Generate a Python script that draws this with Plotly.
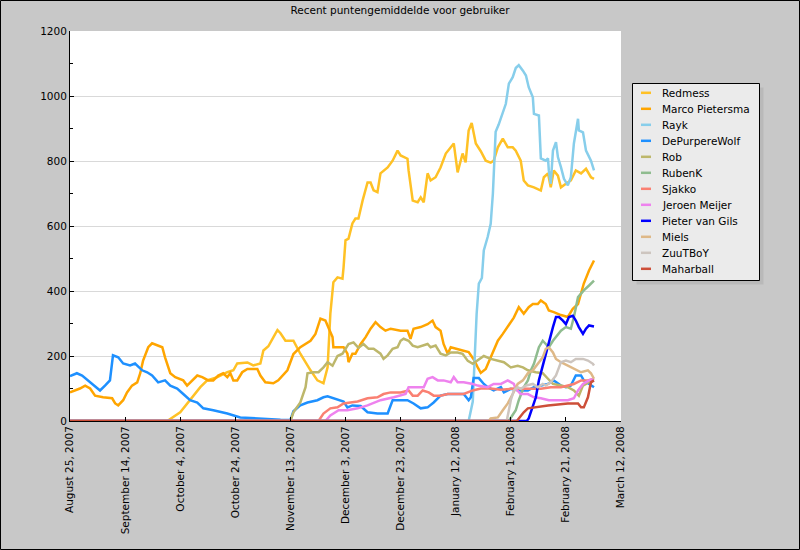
import pandas as pd
import plotly.graph_objects as go

# ---------------- data (days since 2007-08-25, average points) ----------------
start_date = "2007-08-25"

redmess_days = [0, 32.7, 35.3, 40.0, 42.9, 44.4, 47.3, 49.8, 53.5, 57.1, 59.3, 60.7, 64.4, 66.5, 69.1, 70.2, 72.0, 73.8, 75.3, 76.4, 78.2, 81.1, 83.6, 87.3, 89.8, 92.0, 93.5, 94.5, 95.6, 97.1, 98.9, 99.3, 100.0, 101.1, 102.5, 103.6, 104.7, 106.2, 108.0, 109.1, 110.2, 111.6, 112.7, 115.3, 117.1, 118.9, 120.0, 122.5, 122.9, 124.4, 126.2, 127.3, 128.4, 129.8, 130.9, 132.7, 134.5, 136.4, 138.2, 139.3, 140.7, 142.5, 143.6, 144.7, 145.8, 147.3, 149.1, 150.9, 152.7, 153.8, 155.3, 157.1, 158.9, 160.7, 161.8, 163.6, 164.7, 166.2, 168.4, 170.9, 172.0, 173.5, 174.5, 175.6, 177.1, 178.2, 180.0, 181.8, 183.6, 185.5, 187.3, 189.1, 190.2]
redmess_vals = [0, 0, 0, 27, 57, 73, 104, 125, 135, 150, 156, 177, 180, 171, 177, 217, 230, 257, 280, 270, 247, 247, 207, 156, 125, 116, 165, 330, 427, 442, 438, 473, 556, 561, 608, 623, 623, 678, 734, 734, 710, 704, 762, 780, 801, 832, 817, 807, 771, 678, 673, 688, 673, 762, 740, 750, 780, 823, 842, 854, 765, 823, 796, 894, 917, 854, 830, 801, 795, 801, 842, 869, 842, 842, 832, 801, 740, 725, 719, 709, 750, 762, 719, 771, 755, 719, 730, 740, 771, 762, 776, 750, 745]

marco_days = [0, 1.8, 3.6, 5.5, 7.3, 9.1, 12.0, 15.3, 16.4, 17.5, 19.3, 20.7, 22.5, 24.4, 25.5, 26.5, 28.4, 29.8, 31.6, 33.5, 34.5, 36.4, 38.2, 41.1, 42.5, 44.4, 46.2, 48.0, 50.2, 52.0, 53.8, 55.6, 57.1, 58.2, 59.3, 60.7, 62.5, 64.4, 68.0, 69.1, 70.9, 73.8, 75.6, 78.9, 81.1, 83.6, 87.3, 89.1, 90.9, 92.7, 93.8, 95.3, 95.6, 99.3, 100.7, 101.1, 102.5, 103.6, 105.5, 107.3, 109.1, 110.9, 112.7, 114.5, 116.4, 120.0, 122.5, 123.6, 124.7, 127.3, 129.8, 131.6, 132.7, 134.5, 135.6, 137.1, 138.2, 140.0, 142.5, 144.7, 146.5, 148.0, 149.1, 150.9, 152.7, 155.3, 157.1, 158.9, 161.1, 162.9, 164.7, 166.5, 168.0, 169.8, 170.9, 172.7, 173.8, 175.6, 178.2, 180.7, 182.5, 184.4, 186.5, 188.4, 190.2]
marco_vals = [88, 94, 100, 109, 100, 78, 73, 70, 54, 48, 64, 88, 109, 119, 147, 185, 227, 239, 233, 227, 196, 147, 135, 125, 109, 125, 140, 135, 125, 125, 140, 147, 135, 147, 125, 125, 150, 160, 160, 140, 119, 116, 125, 156, 206, 227, 247, 268, 315, 309, 289, 258, 227, 227, 207, 181, 207, 207, 237, 258, 284, 304, 289, 278, 284, 278, 278, 253, 284, 289, 298, 309, 289, 278, 237, 207, 227, 222, 217, 212, 190, 165, 148, 160, 196, 247, 268, 289, 318, 350, 330, 350, 360, 360, 371, 360, 340, 335, 326, 320, 345, 360, 423, 463, 494]

rayk_days = [0, 144.7, 146.2, 146.9, 147.6, 148.4, 149.5, 150.2, 151.6, 152.7, 153.5, 154.2, 154.5, 155.6, 157.1, 158.2, 159.3, 160.7, 161.8, 162.9, 164.4, 165.5, 166.5, 168.0, 168.4, 170.2, 170.9, 172.7, 173.5, 173.8, 174.5, 175.3, 176.4, 177.1, 178.2, 179.3, 180.7, 181.8, 182.9, 184.4, 184.7, 186.2, 187.3, 189.1, 190.2]
rayk_vals = [0, 0, 60, 200, 330, 423, 440, 525, 566, 607, 700, 832, 890, 912, 950, 976, 1038, 1058, 1086, 1095, 1078, 1063, 1027, 996, 945, 940, 808, 801, 808, 771, 730, 832, 858, 812, 781, 745, 725, 750, 854, 930, 894, 888, 832, 801, 771]

wolf_days = [0, 2.5, 4.4, 6.5, 9.1, 10.9, 12.7, 14.5, 15.6, 17.5, 19.3, 21.8, 23.6, 26.2, 28.0, 29.8, 32.0, 34.5, 36.4, 38.9, 41.1, 43.6, 46.2, 48.4, 52.0, 57.1, 61.8, 66.5, 71.6, 76.4, 80.0, 81.1, 83.6, 86.2, 89.8, 92.0, 93.5, 95.6, 99.3, 100.7, 102.5, 105.5, 108.0, 111.6, 115.3, 117.1, 122.5, 124.7, 127.3, 129.8, 132.0, 134.5, 137.1, 140.7, 142.9, 144.7, 145.5, 146.5, 148.4, 150.2, 151.6, 153.8, 156.4, 157.5, 160.0, 162.9, 166.2, 168.4, 170.9, 173.5, 175.6, 178.2, 180.0, 181.8, 183.6, 185.5, 186.5, 188.4, 190.2]
wolf_vals = [138, 147, 140, 125, 109, 94, 109, 125, 202, 196, 177, 171, 177, 156, 150, 140, 119, 125, 109, 100, 83, 64, 57, 39, 33, 23, 11, 8, 5, 4, 3, 30, 48, 57, 64, 73, 76, 70, 60, 42, 48, 46, 27, 23, 23, 64, 64, 54, 39, 42, 57, 78, 83, 83, 83, 64, 73, 132, 132, 114, 104, 94, 104, 88, 99, 94, 94, 104, 109, 114, 125, 109, 104, 109, 140, 140, 125, 114, 104]

rob_days = [0, 80.0, 81.1, 83.6, 85.5, 86.2, 88.4, 90.2, 92.0, 93.5, 95.3, 97.1, 98.9, 101.1, 102.9, 104.7, 106.5, 108.4, 110.2, 112.7, 113.8, 115.3, 117.1, 118.9, 120.0, 121.1, 122.9, 124.4, 126.2, 128.0, 129.8, 130.9, 132.7, 134.5, 136.4, 138.2, 140.7, 142.5, 144.4, 146.2, 148.0, 150.2, 152.7, 155.3, 157.5, 160.0, 162.5, 164.4, 166.2, 169.1, 171.6, 173.5, 175.3, 178.2, 180.7, 182.9, 184.7, 186.2, 187.3, 189.1, 190.2]
rob_vals = [0, 0, 27, 57, 104, 147, 150, 150, 165, 181, 170, 200, 207, 237, 242, 225, 237, 222, 222, 207, 191, 202, 222, 227, 247, 253, 247, 232, 227, 232, 237, 227, 232, 207, 202, 211, 211, 207, 185, 176, 186, 200, 191, 186, 181, 165, 170, 165, 156, 150, 147, 130, 114, 109, 104, 94, 78, 109, 114, 125, 125]

rubenk_days = [0, 159.3, 160.0, 161.8, 162.9, 164.7, 166.2, 167.3, 168.4, 170.2, 171.6, 172.7, 173.8, 175.3, 176.4, 178.2, 180.0, 181.8, 182.9, 184.4, 185.5, 186.5, 188.4, 190.2]
rubenk_vals = [0, 0, 10, 33, 64, 104, 125, 156, 176, 227, 247, 237, 227, 247, 258, 278, 289, 284, 320, 381, 392, 402, 417, 432]

sjakko_days = [0, 90.2, 92.0, 94.5, 97.1, 99.3, 101.8, 104.4, 108.0, 111.6, 113.8, 116.4, 120.0, 122.9, 124.4, 126.2, 128.0, 130.2, 132.0, 134.5, 137.1, 142.9, 146.2, 149.1, 152.7, 156.4, 161.1, 163.6, 167.3, 170.9, 174.5, 178.2, 180.7, 182.9, 185.5, 188.0, 190.2]
sjakko_vals = [0, 0, 23, 39, 42, 54, 57, 60, 70, 73, 83, 88, 88, 94, 78, 78, 94, 88, 78, 78, 83, 83, 94, 100, 100, 96, 100, 99, 99, 99, 104, 104, 109, 114, 125, 125, 130]

jeroen_days = [0, 92.7, 94.5, 97.5, 100.7, 104.4, 108.0, 112.7, 117.5, 121.8, 122.9, 124.7, 128.4, 129.8, 131.6, 133.5, 135.6, 138.2, 139.3, 140.7, 142.9, 146.2, 148.0, 151.6, 153.8, 156.4, 158.9, 161.1, 161.8, 163.6, 166.2, 168.4, 170.9, 173.8, 177.1, 180.7, 182.9, 184.4, 186.2, 188.4, 190.2]
jeroen_vals = [0, 0, 17, 33, 33, 39, 48, 64, 73, 83, 104, 104, 104, 130, 135, 125, 125, 119, 135, 119, 119, 114, 109, 104, 114, 114, 125, 114, 99, 83, 83, 73, 70, 64, 64, 64, 70, 94, 114, 125, 130]

pieter_days = [0, 165.8, 166.5, 168.0, 169.1, 170.2, 171.6, 172.7, 173.8, 175.3, 176.4, 177.5, 178.9, 180.0, 181.1, 182.5, 183.6, 184.7, 186.2, 187.3, 188.4, 190.2]
pieter_vals = [0, 0, 8, 42, 73, 125, 171, 207, 247, 289, 320, 320, 309, 298, 320, 324, 309, 289, 268, 284, 294, 291]

miels_days = [0, 152.0, 152.7, 155.3, 157.1, 158.9, 160.7, 162.5, 164.4, 166.2, 168.0, 169.8, 171.6, 172.7, 173.8, 175.3, 176.4, 178.2, 180.7, 182.9, 185.5, 188.0, 189.1, 190.2]
miels_vals = [0, 0, 8, 11, 33, 54, 83, 114, 125, 147, 156, 176, 196, 222, 227, 211, 191, 181, 171, 161, 150, 156, 147, 130]

zuutboy_days = [0, 158.5, 159.3, 160.0, 161.1, 162.5, 163.6, 165.5, 168.0, 169.8, 171.6, 172.7, 174.5, 176.4, 177.5, 178.2, 180.0, 181.8, 183.6, 186.2, 188.0, 189.8, 190.2]
zuutboy_vals = [0, 0, 33, 64, 94, 104, 99, 109, 114, 104, 114, 109, 119, 140, 165, 181, 186, 181, 191, 191, 186, 176, 171]

maharball_days = [0, 162.2, 162.9, 164.7, 166.2, 168.4, 170.9, 173.5, 177.1, 180.7, 184.4, 185.5, 186.5, 188.0, 189.1, 190.2]
maharball_vals = [0, 0, 8, 27, 39, 42, 45, 48, 51, 54, 54, 42, 42, 73, 119, 125]

series_names = ["Redmess", "Marco Pietersma", "Rayk", "DePurpereWolf", "Rob", "RubenK",
                "Sjakko", "Jeroen Meijer", "Pieter van Gils", "Miels", "ZuuTBoY", "Maharball"]
series_colors = ["#FFC125", "#FFA500", "#87CEEB", "#1E90FF", "#BDB76B", "#8FBC8F",
                 "#FA8072", "#EE82EE", "#0000FF", "#DEB887", "#CDC5BF", "#CD4F39"]
series_days = [redmess_days, marco_days, rayk_days, wolf_days, rob_days, rubenk_days,
               sjakko_days, jeroen_days, pieter_days, miels_days, zuutboy_days, maharball_days]
series_vals = [redmess_vals, marco_vals, rayk_vals, wolf_vals, rob_vals, rubenk_vals,
               sjakko_vals, jeroen_vals, pieter_vals, miels_vals, zuutboy_vals, maharball_vals]

title_text = "Recent puntengemiddelde voor gebruiker"

# ---------------- figure ----------------
W, H = 800, 550
ML, MR, MT, MB = 70, 179, 31, 129
PW, PH = W - ML - MR, H - MT - MB
FONT = "DejaVu Sans"
FS = 10.5

def px(xp):
    return (xp - ML) / PW

def py(yp):
    return (MT + PH - yp) / PH

base = pd.Timestamp(start_date)
fig = go.Figure()
for name, color, d, v in zip(series_names, series_colors, series_days, series_vals):
    x = base + pd.to_timedelta(d, unit="D")
    fig.add_trace(go.Scatter(x=x, y=v, mode="lines", name=name,
                             line=dict(color=color, width=2.5), cliponaxis=False,
                             showlegend=False))

shapes = []
annotations = []
# outer border
shapes.append(dict(type="rect", xref="paper", yref="paper",
                   x0=px(0.5), x1=px(W - 0.5), y0=py(H - 0.5), y1=py(0.5),
                   line=dict(color="black", width=1), fillcolor="rgba(0,0,0,0)", layer="above"))
# legend shadow + box
lx0, lx1, ly0, ly1 = 632.5, 759.5, 83.5, 280.5
shapes.append(dict(type="rect", xref="paper", yref="paper",
                   x0=px(lx0 + 4), x1=px(lx1 + 4), y0=py(ly1 + 4), y1=py(ly0 + 4),
                   line=dict(width=0), fillcolor="#b9b9b9", layer="above"))
shapes.append(dict(type="rect", xref="paper", yref="paper",
                   x0=px(lx0), x1=px(lx1), y0=py(ly1), y1=py(ly0),
                   line=dict(color="black", width=1), fillcolor="#ebebeb", layer="above"))
for i, (name, color) in enumerate(zip(series_names, series_colors)):
    yc = 92.8 + 16 * i
    shapes.append(dict(type="line", xref="paper", yref="paper",
                       x0=px(641), x1=px(651), y0=py(yc), y1=py(yc),
                       line=dict(color=color, width=2.5), layer="above"))
    annotations.append(dict(text=name, xref="paper", yref="paper", x=px(659.5), y=py(yc),
                            xanchor="left", yanchor="middle", showarrow=False,
                            font=dict(family=FONT, size=FS, color="black")))

fig.update_layout(
    width=W, height=H,
    margin=dict(l=ML, r=MR, t=MT, b=MB, pad=0),
    paper_bgcolor="#c8c8c8", plot_bgcolor="white",
    showlegend=False,
    title=dict(text=title_text, x=0.5, xref="container", xanchor="center",
               y=1 - 10.5 / H, yref="container", yanchor="middle",
               font=dict(family=FONT, size=FS, color="black")),
    font=dict(family=FONT, size=FS, color="black"),
    shapes=shapes, annotations=annotations,
    xaxis=dict(type="date", range=[base, base + pd.Timedelta(days=200)],
               tickmode="linear", tick0=base, dtick=20 * 86400000,
               tickformat="%B %-d, %Y", tickangle=-90,
               ticks="inside", ticklen=4, tickcolor="black", tickwidth=1,
               showline=True, linecolor="black", linewidth=1,
               showgrid=False, zeroline=False,
               tickfont=dict(family=FONT, size=FS, color="black")),
    yaxis=dict(range=[0, 1200], tickmode="linear", tick0=0, dtick=200,
               ticks="inside", ticklen=4, tickcolor="black", tickwidth=1,
               minor=dict(ticks="inside", ticklen=3, dtick=100, tickcolor="black", showgrid=False),
               showline=True, linecolor="black", linewidth=1,
               showgrid=True, gridcolor="#d9d9d9", gridwidth=1, zeroline=False,
               tickfont=dict(family=FONT, size=FS, color="black")),
)

fig.write_html("out.html")
